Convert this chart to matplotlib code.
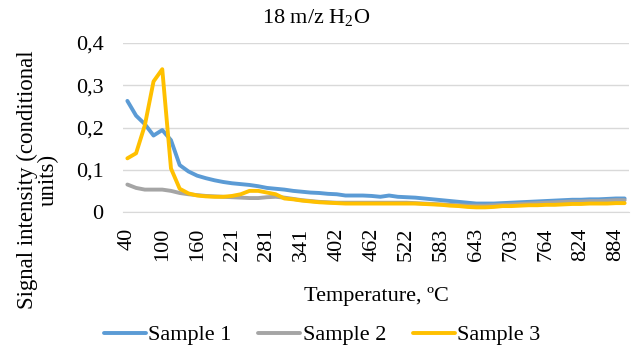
import matplotlib
matplotlib.use("Agg")
import matplotlib.pyplot as plt

plt.rcParams['font.family'] = ['Liberation Serif', 'DejaVu Serif']
plt.rcParams['mathtext.default'] = 'regular'

temps = [40, 55, 70, 85, 100, 115, 130, 145, 160, 175, 191, 206, 221, 236, 251,
         266, 281, 296, 311, 326, 341, 356, 371, 386, 402, 417, 432, 447, 462, 477,
         492, 507, 522, 537, 552, 567, 583, 598, 613, 628, 643, 658, 673, 688, 703,
         718, 733, 748, 764, 779, 794, 809, 824, 839, 854, 869, 884, 899]

sample_1 = [0.263, 0.228, 0.208, 0.181, 0.194, 0.170, 0.111, 0.096, 0.086, 0.080,
            0.075, 0.071, 0.068, 0.066, 0.064, 0.061, 0.057, 0.055, 0.053, 0.050,
            0.048, 0.046, 0.045, 0.043, 0.042, 0.039, 0.039, 0.039, 0.038, 0.036,
            0.039, 0.036, 0.035, 0.034, 0.032, 0.030, 0.028, 0.026, 0.024, 0.022,
            0.020, 0.020, 0.020, 0.021, 0.022, 0.023, 0.024, 0.025, 0.026, 0.027,
            0.028, 0.029, 0.029, 0.030, 0.030, 0.031, 0.032, 0.032]

sample_2 = [0.065, 0.057, 0.053, 0.053, 0.053, 0.050, 0.045, 0.042, 0.040, 0.038,
            0.037, 0.036, 0.035, 0.034, 0.033, 0.033, 0.035, 0.036, 0.034, 0.031,
            0.028, 0.026, 0.024, 0.023, 0.022, 0.022, 0.022, 0.022, 0.022, 0.022,
            0.022, 0.022, 0.022, 0.021, 0.020, 0.019, 0.018, 0.017, 0.016, 0.015,
            0.015, 0.015, 0.016, 0.017, 0.018, 0.019, 0.020, 0.021, 0.022, 0.023,
            0.024, 0.025, 0.025, 0.026, 0.026, 0.027, 0.028, 0.028]

sample_3 = [0.127, 0.139, 0.205, 0.309, 0.338, 0.103, 0.055, 0.044, 0.039, 0.037,
            0.036, 0.036, 0.038, 0.042, 0.050, 0.050, 0.046, 0.042, 0.032, 0.030,
            0.027, 0.025, 0.023, 0.022, 0.021, 0.020, 0.020, 0.020, 0.020, 0.020,
            0.020, 0.020, 0.020, 0.020, 0.019, 0.018, 0.017, 0.015, 0.014, 0.012,
            0.011, 0.011, 0.012, 0.014, 0.014, 0.015, 0.016, 0.016, 0.017, 0.017,
            0.018, 0.019, 0.019, 0.020, 0.020, 0.020, 0.021, 0.021]

series = [('Sample 1', sample_1, '#5B9BD5'),
          ('Sample 2', sample_2, '#A5A5A5'),
          ('Sample 3', sample_3, '#FFC000')]

W, H = 632, 349
fig = plt.figure(figsize=(W / 100, H / 100), dpi=100)
ax = fig.add_axes([123 / W, 1 - 212 / H, (629 - 123) / W, (212 - 43) / H])

x = list(range(len(temps)))
for name, vals, color in series:
    ax.plot(x, vals, color=color, lw=2.8, label=name,
            solid_joinstyle='round', solid_capstyle='round')

ax.set_xlim(-0.5, len(temps) - 0.5)
ax.set_ylim(0, 0.4)
ax.set_yticks([0, 0.1, 0.2, 0.3, 0.4])
ax.set_yticklabels(['0', '0,1', '0,2', '0,3', '0,4'], fontsize=16)
ax.set_xticks(x[::4])
ax.set_xticklabels([str(t) for t in temps[::4]], rotation=90, fontsize=16)
ax.tick_params(axis='both', length=0)
ax.tick_params(axis='y', pad=14)
ax.tick_params(axis='x', pad=11)
ax.grid(axis='y', color='#D9D9D9', lw=1)
ax.set_axisbelow(True)
for side in ['top', 'right', 'left']:
    ax.spines[side].set_visible(False)
ax.spines['bottom'].set_color('#D9D9D9')

fig.text(0.5, 1 - 18 / H, '18 m/z H$_{2}$O', ha='center', va='center', fontsize=16)
fig.text(376 / W, 1 - 297 / H, 'Temperature, ºC', ha='center', va='center', fontsize=16)
fig.text(38 / W, 1 - 180 / H, 'Signal intensity (conditional\nunits)', rotation=90,
         ha='center', va='center', multialignment='center', fontsize=16.5, linespacing=1.0)

fig.legend(loc='center', bbox_to_anchor=(322 / W, 1 - 335 / H), ncol=3, frameon=False,
           fontsize=16, handlelength=1.9, handletextpad=0.1, columnspacing=1.2,
           borderaxespad=0)

fig.savefig('out.png', dpi=100)
